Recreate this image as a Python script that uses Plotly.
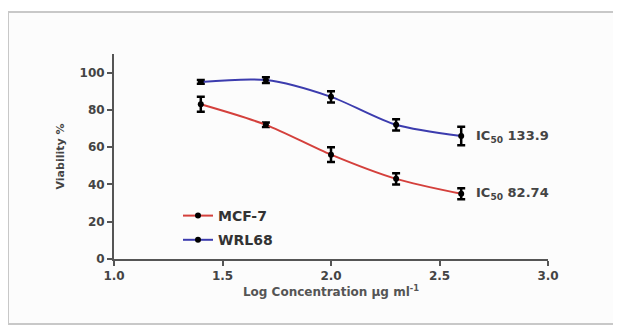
import plotly.graph_objects as go

log_conc = [1.4, 1.7, 2.0, 2.3, 2.6]
mcf7_viability = [83, 72, 56, 43, 35]
mcf7_err = [4, 1.2, 4, 3, 3]
wrl68_viability = [95, 96, 87, 72, 66]
wrl68_err = [1, 1.5, 3, 3, 5]
series_names = ["MCF-7", "WRL68"]
ic50_labels = ["IC<sub>50</sub> 82.74", "IC<sub>50</sub> 133.9"]
x_ticks = [1.0, 1.5, 2.0, 2.5, 3.0]
y_ticks = [0, 20, 40, 60, 80, 100]

# page has an 8px body margin; figure pixel = page pixel - 8
W, H = 613, 319
L, R, T, B = 106, 73, 46, 68
pw, ph = W - L - R, H - T - B

def px_x(p):
    return (p - 8 - L) / pw

def px_y(p):
    return (H - B - (p - 8)) / ph

font = "DejaVu Sans, Arial, sans-serif"
fig = go.Figure()

for i, (name, vals, errs, col) in enumerate([
    (series_names[0], mcf7_viability, mcf7_err, "#d4403c"),
    (series_names[1], wrl68_viability, wrl68_err, "#3c3cae"),
]):
    fig.add_trace(go.Scatter(
        x=log_conc, y=vals, name=name, mode="lines+markers", legendgroup=name,
        line=dict(color=col, width=2, shape="spline", smoothing=0.8),
        marker=dict(color="black", size=6),
        error_y=dict(type="data", array=errs, color="black", thickness=2.5, width=4),
    ))

for val, lab in zip([mcf7_viability[-1], wrl68_viability[-1]], ic50_labels):
    fig.add_annotation(x=2.66, y=val, text=lab, showarrow=False, xanchor="left",
                       font=dict(family=font, size=13, color="#444", weight="bold"))

fig.add_shape(type="rect", xref="paper", yref="paper",
              x0=px_x(8), x1=px_x(619), y0=px_y(324), y1=px_y(12),
              fillcolor="#fcfcfc", line=dict(color="#c8c8c8", width=2), layer="below")

axis_common = dict(showgrid=False, zeroline=False, showline=True, linecolor="#555",
                   linewidth=2, ticks="outside", tickcolor="#555", tickwidth=2, ticklen=5,
                   tickfont=dict(family=font, size=12, color="#444", weight="bold"))

fig.update_xaxes(range=[1, 3], tickvals=x_ticks, ticktext=[f"{v:.1f}" for v in x_ticks],
                 title=dict(text="Log Concentration μg ml<sup>-1</sup>", standoff=5,
                            font=dict(family=font, size=12, color="#555", weight="bold")),
                 **axis_common)
fig.update_yaxes(range=[0, 110], tickvals=y_ticks,
                 title=dict(text="Viability %", standoff=13,
                            font=dict(family=font, size=11, color="#444", weight="bold")),
                 **axis_common)

fig.update_layout(
    width=W, height=H, margin=dict(l=L, r=R, t=T, b=B),
    paper_bgcolor="white", plot_bgcolor="rgba(0,0,0,0)",
    showlegend=True,
    legend=dict(x=px_x(178), y=px_y(200), xanchor="left", yanchor="top",
                bgcolor="rgba(0,0,0,0)", tracegroupgap=3, traceorder="grouped",
                font=dict(family=font, size=14, color="#333", weight="bold")),
)

fig.write_html("out.html")
